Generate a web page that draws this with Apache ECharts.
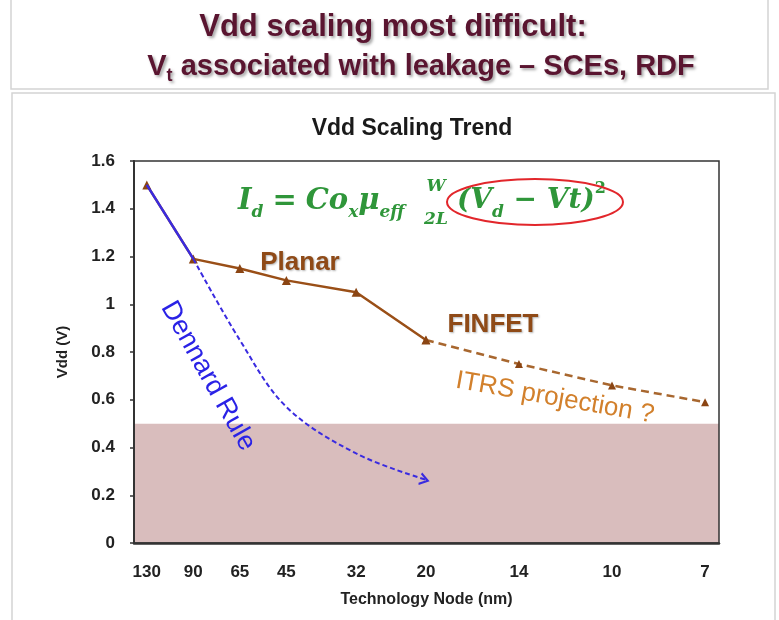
<!DOCTYPE html>
<html>
<head>
<meta charset="utf-8">
<script src="https://cdn.jsdelivr.net/npm/echarts@6/dist/echarts.min.js"></script>
<style>
  html, body { margin: 0; padding: 0; background: #ffffff; }
  #chart { width: 779px; height: 620px; }
</style>
</head>
<body>
<div id="chart"></div>
<script>
// ---- data ----
const nodeLabels = ['130', '90', '65', '45', '32', '20', '14', '10', '7'];
const nodePos = [0, 2, 4, 6, 9, 12, 16, 20, 24];          // axis position of each node
const planarVdd = [1.50, 1.19, 1.15, 1.10, 1.05, 0.85];   // nodes 130..20
const itrsVdd = [0.85, 0.75, 0.66, 0.59];                 // nodes 20..7
const dennardSolid = [1.50, 1.19];                        // nodes 130..90
const dennardDashed = [1.19, 0.85, 0.57, 0.375, 0.265];   // nodes 90..20
const lowVddLimit = 0.5;
const yTicks = [0, 0.2, 0.4, 0.6, 0.8, 1, 1.2, 1.4, 1.6];

function pairs(startIdx, vals) {
  return vals.map((v, i) => [nodePos[startIdx + i], v]);
}

const brown = '#9a4f17';
const brownDash = '#a8672f';
const marker = '#8b4513';
const blue = '#3a2be0';
const green = '#2f963a';

const chart = echarts.init(document.getElementById('chart'), null, { renderer: 'canvas' });

const dennardDashedData = pairs(1, dennardDashed);
const last = dennardDashedData.length - 1;
dennardDashedData[last] = {
  value: dennardDashedData[last],
  symbol: 'path://M0,0 L8,6 L0,12',
  symbolSize: [8, 11],
  symbolRotate: -16,
  symbolOffset: [-2, 0],
  itemStyle: { color: 'rgba(0,0,0,0)', borderColor: blue, borderWidth: 2 }
};

const labelFont = 'Liberation Sans';
const shadow = { textShadowColor: 'rgba(0,0,0,0.35)', textShadowBlur: 3, textShadowOffsetX: 2, textShadowOffsetY: 2 };
const fm = { fontSize: 29, fontWeight: 'bold', fontStyle: 'italic', fontFamily: 'DejaVu Serif', fill: green, lineHeight: 40 };
const fe = { fontSize: 29, fontWeight: 'bold', fontFamily: 'DejaVu Serif', fill: green, lineHeight: 40, padding: [0, 9, 0, 9] };
const fs = { fontSize: 17, fontWeight: 'bold', fontStyle: 'italic', fontFamily: 'DejaVu Serif', fill: green, lineHeight: 20, verticalAlign: 'bottom' };
const fp = { fontSize: 16, fontWeight: 'bold', fontFamily: 'DejaVu Serif', fill: green, lineHeight: 22, verticalAlign: 'top' };
const fm2 = Object.assign({}, fm, { fontSize: 28 });

chart.setOption({
  animation: false,
  backgroundColor: '#ffffff',
  grid: {
    left: 134, right: 60, top: 161, bottom: 77,
    show: true, borderColor: '#333', borderWidth: 1.5,
    backgroundColor: 'rgba(0,0,0,0)', z: 3
  },
  xAxis: {
    type: 'value', min: -0.55, max: 24.6, z: 5,
    axisLine: { show: true, onZero: false, lineStyle: { color: '#333', width: 2.5 } },
    axisTick: { show: false },
    splitLine: { show: false },
    axisLabel: {
      customValues: nodePos,
      formatter: v => { const i = nodePos.indexOf(v); return i >= 0 ? nodeLabels[i] : ''; },
      margin: 21, fontSize: 17, fontWeight: 'bold', color: '#222', fontFamily: labelFont
    },
    name: 'Technology Node (nm)', nameLocation: 'middle', nameGap: 49,
    nameTextStyle: { fontSize: 16, fontWeight: 'bold', color: '#222', fontFamily: labelFont }
  },
  yAxis: {
    type: 'value', min: yTicks[0], max: yTicks[yTicks.length - 1], interval: 0.2, z: 5,
    axisLine: { show: true, onZero: false, lineStyle: { color: '#333', width: 2 } },
    axisTick: { show: true, inside: false, length: 4, lineStyle: { color: '#333', width: 1.5 } },
    splitLine: { show: false },
    axisLabel: { margin: 19, fontSize: 17, fontWeight: 'bold', color: '#222', fontFamily: labelFont },
    name: 'Vdd (V)', nameLocation: 'middle', nameGap: 64, nameRotate: 90,
    nameTextStyle: { fontSize: 15, fontWeight: 'bold', color: '#222', fontFamily: labelFont }
  },
  series: [
    {
      name: 'Planar', type: 'line', z: 2,
      data: pairs(0, planarVdd),
      symbol: 'triangle', symbolSize: 9,
      itemStyle: { color: marker },
      lineStyle: { color: brown, width: 2.5 },
      markArea: {
        silent: true,
        itemStyle: { color: '#d9bdbd', opacity: 1 },
        data: [[{ yAxis: 0 }, { yAxis: lowVddLimit }]]
      }
    },
    {
      name: 'ITRS projection', type: 'line', z: 2,
      data: pairs(5, itrsVdd),
      symbol: 'triangle', symbolSize: 8,
      itemStyle: { color: marker },
      lineStyle: { color: brownDash, width: 2.5, type: [8, 5] }
    },
    {
      name: 'Dennard', type: 'line', z: 4,
      data: pairs(0, dennardSolid),
      symbol: 'none',
      lineStyle: { color: blue, width: 2.5 }
    },
    {
      name: 'Dennard Rule', type: 'line', z: 4,
      data: dennardDashedData,
      symbol: 'none', smooth: 0.35,
      lineStyle: { color: blue, width: 2, type: [5, 3] }
    }
  ],
  graphic: [
    { type: 'rect', silent: true, z: -10, shape: { x: 11, y: -3, width: 757, height: 92 },
      style: { fill: 'none', stroke: '#d4d4d4', lineWidth: 1.5 } },
    { type: 'rect', silent: true, z: -10, shape: { x: 12, y: 93, width: 763, height: 540 },
      style: { fill: 'none', stroke: '#d4d4d4', lineWidth: 1.5 } },
    { type: 'text', x: 393, y: 27, silent: true, z: 20,
      style: Object.assign({ text: 'Vdd scaling most difficult:', fill: '#5a1530',
        font: 'bold 31px "Liberation Sans"', align: 'center', verticalAlign: 'middle' }, shadow) },
    { type: 'text', x: 421, y: 67, silent: true, z: 20,
      style: { text: '{n|V}{s|t}{n| associated with leakage – SCEs, RDF}',
        align: 'center', verticalAlign: 'middle',
        rich: {
          n: Object.assign({ fontSize: 29, fontWeight: 'bold', fontFamily: 'Liberation Sans', fill: '#5a1530', lineHeight: 36 }, shadow),
          s: Object.assign({ fontSize: 18, fontWeight: 'bold', fontFamily: 'Liberation Sans', fill: '#5a1530', lineHeight: 20, verticalAlign: 'bottom' }, shadow)
        } } },
    { type: 'text', x: 412, y: 129, silent: true, z: 20,
      style: { text: 'Vdd Scaling Trend', fill: '#1a1a1a', font: 'bold 23px "Liberation Sans"',
        align: 'center', verticalAlign: 'middle' } },
    // formula
    { type: 'text', x: 238, y: 201, silent: true, z: 20,
      style: { text: '{m|I}{s|d}{e|=}{m|Co}{s|x}{m|μ}{s|eff}', align: 'left', verticalAlign: 'middle',
        rich: { m: fm, s: fs, e: fe } } },
    { type: 'text', x: 436, y: 187, silent: true, z: 20,
      style: { text: 'W', fill: green, font: 'italic bold 17px "DejaVu Serif"', align: 'center', verticalAlign: 'middle' } },
    { type: 'text', x: 436, y: 220, silent: true, z: 20,
      style: { text: '2L', fill: green, font: 'italic bold 17px "DejaVu Serif"', align: 'center', verticalAlign: 'middle' } },
    { type: 'text', x: 457, y: 201, silent: true, z: 20,
      style: { text: '{m|(V}{s|d}{m| − Vt)}{p|2}', align: 'left', verticalAlign: 'middle',
        rich: { m: fm2, s: fs, p: fp } } },
    { type: 'ellipse', silent: true, z: 20, shape: { cx: 535, cy: 202, rx: 88, ry: 23 },
      style: { fill: 'none', stroke: '#e2262b', lineWidth: 2 } },
    // annotations
    { type: 'text', x: 300, y: 263, silent: true, z: 20,
      style: { text: 'Planar', fill: '#8f4a17', font: 'bold 26px "Liberation Sans"', align: 'center', verticalAlign: 'middle',
        textShadowColor: 'rgba(0,0,0,0.3)', textShadowBlur: 2, textShadowOffsetX: 1, textShadowOffsetY: 1 } },
    { type: 'text', x: 493, y: 325, silent: true, z: 20,
      style: { text: 'FINFET', fill: '#8f4a17', font: 'bold 26px "Liberation Sans"', align: 'center', verticalAlign: 'middle',
        textShadowColor: 'rgba(0,0,0,0.3)', textShadowBlur: 2, textShadowOffsetX: 1, textShadowOffsetY: 1 } },
    { type: 'text', x: 555, y: 398, rotation: -0.175, silent: true, z: 20,
      style: { text: 'ITRS projection ?', fill: '#d2802c', font: '26px "Liberation Sans"', align: 'center', verticalAlign: 'middle' } },
    { type: 'text', x: 208, y: 376, rotation: -1.06, silent: true, z: 20,
      style: { text: 'Dennard Rule', fill: '#2a22e6', font: '27px "Liberation Sans"', align: 'center', verticalAlign: 'middle' } }
  ]
});
</script>
</body>
</html>
